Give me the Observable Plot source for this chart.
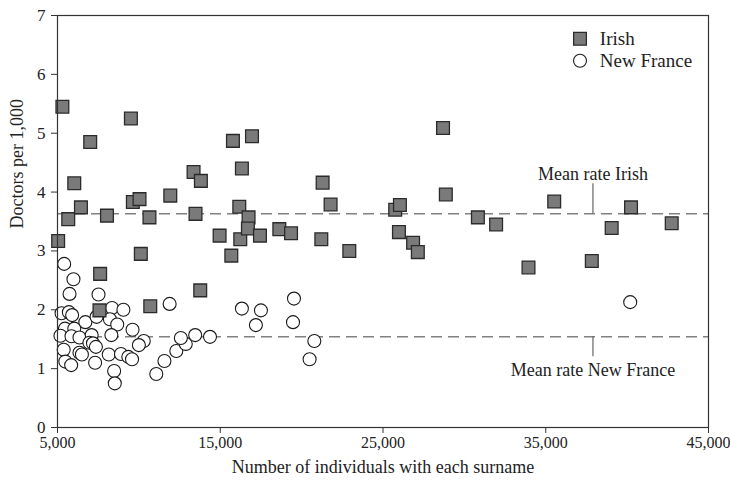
<!DOCTYPE html>
<html><head><meta charset="utf-8">
<script src="https://cdn.jsdelivr.net/npm/d3@7"></script>
<script src="https://cdn.jsdelivr.net/npm/@observablehq/plot@0.6"></script>
<style>body{margin:0;background:#fff}</style>
</head><body><div id="chart"></div>
<script>
const irishX = [5040,5300,5660,6030,6440,7010,7620,7580,8040,9510,9630,10040,10120,10650,10700,11930,13360,13810,13480,13770,14960,15680,15780,16950,16330,16170,16230,16740,16700,17440,18630,19350,21290,21780,21210,22930,25750,26040,25980,26850,27140,28690,28860,30830,31950,33940,35520,37830,39050,40240,42740];
const irishY = [3.17,5.45,3.54,4.15,3.74,4.85,2.61,1.99,3.60,5.25,3.83,3.88,2.95,3.57,2.06,3.94,4.34,4.19,3.63,2.33,3.26,2.92,4.87,4.95,4.40,3.75,3.20,3.57,3.38,3.26,3.37,3.30,4.16,3.79,3.20,3.00,3.70,3.78,3.32,3.14,2.98,5.09,3.96,3.57,3.45,2.72,3.84,2.83,3.39,3.74,3.47];
const nfX = [5410,5980,5740,7520,5250,5700,5900,6710,7400,8350,9050,8220,8670,9610,5460,6030,5180,5860,6350,7100,8310,6960,7180,10300,10000,5380,6350,6500,7360,8150,8900,9350,9580,5480,5840,7310,8480,8520,11070,11570,12300,12880,12580,13460,14370,11890,16330,17500,19530,17190,19470,20780,20490,40190];
const nfY = [2.78,2.52,2.27,2.26,1.94,1.96,1.91,1.79,1.88,2.03,2.00,1.84,1.75,1.66,1.68,1.68,1.56,1.55,1.53,1.57,1.57,1.44,1.43,1.47,1.40,1.32,1.27,1.24,1.37,1.24,1.25,1.20,1.16,1.12,1.06,1.10,0.96,0.75,0.91,1.13,1.30,1.42,1.52,1.57,1.54,2.10,2.02,1.99,2.19,1.74,1.79,1.47,1.16,2.13];
const meanLabels = ["Mean rate Irish", "Mean rate New France"];
const meanRates = [3.63, 1.54];
const meanLabelX = 37900;
const leaderLen = [0.51, -0.34];
const xTicks = [5000, 15000, 25000, 35000, 45000];
const yTicks = [0, 1, 2, 3, 4, 5, 6, 7];
const seriesNames = ["Irish", "New France"];

const irish = irishX.map((x, i) => ({x, y: irishY[i]}));
const nf = nfX.map((x, i) => ({x, y: nfY[i]}));
const means = meanLabels.map((label, i) => ({label, value: meanRates[i], lead: leaderLen[i]}));

const font = "Liberation Serif";
const squareFill = "#7a7a7a", squareStroke = "#2b2b2b";

const chart = Plot.plot({
  width: 730, height: 481,
  marginLeft: 57, marginRight: 22, marginTop: 15, marginBottom: 54,
  style: {fontFamily: font, fontSize: "17px", color: "#222", background: "#fff"},
  x: {domain: [5000, 45000]},
  y: {domain: [0, 7]},
  marks: [
    Plot.axisX({ticks: xTicks, tickFormat: d3.format(","), tickSize: 6, tickPadding: 3, label: null, fontSize: 16, stroke: "#333"}),
    Plot.axisY({ticks: yTicks, tickFormat: d3.format("d"), tickSize: 6, tickPadding: 6, label: null, fontSize: 17, stroke: "#333"}),
    Plot.ruleY(means, {y: "value", stroke: "#808080", strokeWidth: 1.5, strokeDasharray: "11,6"}),
    Plot.ruleX(means, {x: () => meanLabelX, y1: "value", y2: d => d.value + d.lead, stroke: "#666", strokeWidth: 1.2}),
    Plot.text(means.slice(0, 1), {x: () => meanLabelX, y: "value", text: "label", dy: -40, lineAnchor: "middle", fontSize: 18, fill: "#222"}),
    Plot.text(means.slice(1), {x: () => meanLabelX, y: "value", text: "label", dy: 33, lineAnchor: "middle", fontSize: 18, fill: "#222"}),
    Plot.dot(nf, {x: "x", y: "y", r: 6.5, fill: "white", stroke: "#1a1a1a", strokeWidth: 1.1}),
    Plot.dot(irish, {x: "x", y: "y", r: 7.2, symbol: "square", fill: squareFill, stroke: squareStroke, strokeWidth: 1.3}),
    Plot.frame({stroke: "#333", strokeWidth: 1.2}),
    Plot.dot([seriesNames[0]], {frameAnchor: "top-right", dx: -128.5, dy: 23.3, r: 7.2, symbol: "square", fill: squareFill, stroke: squareStroke, strokeWidth: 1.3}),
    Plot.dot([seriesNames[1]], {frameAnchor: "top-right", dx: -128.5, dy: 45.3, r: 6.5, fill: "white", stroke: "#1a1a1a", strokeWidth: 1.1}),
    Plot.text([seriesNames[0]], {frameAnchor: "top-right", dx: -108.7, dy: 23.3, text: d => d, textAnchor: "start", lineAnchor: "middle", fontSize: 19, fill: "#222"}),
    Plot.text([seriesNames[1]], {frameAnchor: "top-right", dx: -108.7, dy: 45.3, text: d => d, textAnchor: "start", lineAnchor: "middle", fontSize: 19, fill: "#222"}),
    Plot.text(["Number of individuals with each surname"], {frameAnchor: "bottom", dy: 40, text: d => d, lineAnchor: "middle", fontSize: 18, fill: "#222"}),
    Plot.text(["Doctors per 1,000"], {frameAnchor: "left", dx: -40, dy: 7, text: d => d, rotate: -90, lineAnchor: "middle", fontSize: 18, fill: "#222"})
  ]
});
document.getElementById("chart").appendChild(chart);
</script>
</body></html>
